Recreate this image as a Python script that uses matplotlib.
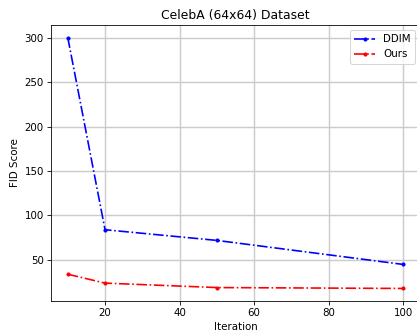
import matplotlib
matplotlib.use("Agg")
import matplotlib.pyplot as plt

iterations = [10, 20, 50, 100]
fid_ddim = [300, 84, 72, 45]
fid_ours = [34, 24, 19, 18]

DPI = 74
fig = plt.figure(figsize=(418 / DPI, 332 / DPI), dpi=DPI)
ax = fig.add_axes([51 / 418, 1 - 301 / 332, 369 / 418, 276 / 332])

ax.plot(iterations, fid_ddim, 'b.-.', label="DDIM", lw=1.6)
ax.plot(iterations, fid_ours, 'r.-.', label="Ours", lw=1.6)
ax.set_title("CelebA (64x64) Dataset")
ax.set_xlabel("Iteration")
ax.set_ylabel("FID Score")
ax.grid(True, color="#cccccc", lw=1.4)
ax.legend(loc="upper right")

fig.savefig("out.png", dpi=DPI)
